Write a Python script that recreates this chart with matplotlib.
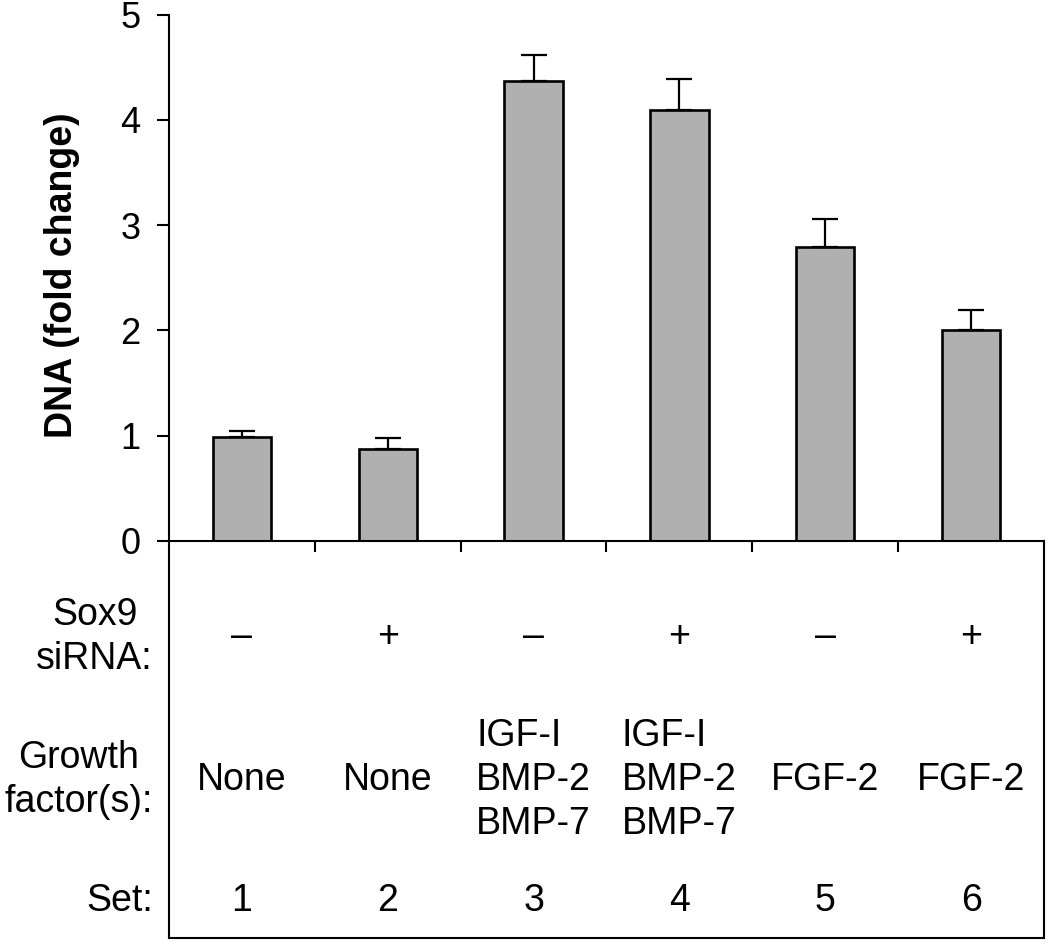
import matplotlib
matplotlib.use("Agg")
import matplotlib.pyplot as plt
import numpy as np

# ---- data ----
sets = ["1", "2", "3", "4", "5", "6"]
dna_fold = [0.99, 0.87, 4.37, 4.09, 2.79, 2.00]
dna_err = [0.05, 0.11, 0.25, 0.30, 0.27, 0.19]
sirna = ["\u2013", "+", "\u2013", "+", "\u2013", "+"]
growth_factors = ["None", "None", "IGF-I\nBMP-2\nBMP-7", "IGF-I\nBMP-2\nBMP-7", "FGF-2", "FGF-2"]
yticks = [0, 1, 2, 3, 4, 5]
row_labels = ["Sox9\nsiRNA:", "Growth\nfactor(s):", "Set:"]

plt.rcParams['font.family'] = ['Liberation Sans', 'DejaVu Sans']

W, H = 1050, 951
fig = plt.figure(figsize=(W / 100, H / 100), dpi=100)

x0, x1 = 169, 1044
y0, y5 = 540.7, 14.7
ybot = 938

ax = fig.add_axes([x0 / W, 1 - y0 / H, (x1 - x0) / W, (y0 - y5) / H])
x = np.arange(len(sets))
ax.bar(x, dna_fold, width=0.40, color="#b0b0b0", edgecolor="black", linewidth=1.9,
       yerr=(np.zeros(len(dna_err)), dna_err), capsize=9.5,
       error_kw=dict(elinewidth=1.6, capthick=1.6, ecolor="black"), zorder=2)
ax.set_xlim(-0.5, len(sets) - 0.5)
ax.set_ylim(0, 5)
ax.set_yticks(yticks)
ax.set_yticklabels([str(t) for t in yticks], fontsize=26)
ax.set_xticks(x[:-1] + 0.5)
ax.set_xticklabels([])
for s in ["top", "right"]:
    ax.spines[s].set_visible(False)
for s in ["left", "bottom"]:
    ax.spines[s].set_linewidth(1.5)
ax.tick_params(axis="y", length=8.5, width=1.5, pad=12)
ax.tick_params(axis="x", length=8, width=1.5, direction="out")
ax.set_ylabel("DNA (fold change)", fontsize=27, fontweight="bold", va="center")
ax.yaxis.set_label_coords(-(x0 - 62) / (x1 - x0), (y0 - 275) / (y0 - y5))

# ---- lower table box ----
tb = fig.add_axes([x0 / W, 1 - ybot / H, (x1 - x0) / W, (ybot - y0) / H])
tb.set_xlim(-0.5, len(sets) - 0.5)
tb.set_ylim(ybot, y0)
tb.set_xticks([])
tb.set_yticks([])
tb.patch.set_alpha(0)
tb.spines["top"].set_visible(False)
for s in ["left", "right", "bottom"]:
    tb.spines[s].set_linewidth(1.5)

fs = 27
ls = 1.3
row_y = [637, 780, 901]
for i in range(len(sets)):
    tb.text(x[i], row_y[0], sirna[i], ha="center", va="center", fontsize=fs)
    tb.text(x[i], row_y[1], growth_factors[i], ha="center", va="center", fontsize=fs,
            linespacing=ls, multialignment="left")
    tb.text(x[i], row_y[2], sets[i], ha="center", va="center", fontsize=fs)

trans = tb.get_yaxis_transform()
for lab, yy in zip(row_labels, row_y):
    tb.text(-(x0 - 153) / (x1 - x0), yy, lab, transform=trans, ha="right", va="center",
            fontsize=fs, linespacing=ls, multialignment="center")

fig.savefig("out.png", dpi=100)
